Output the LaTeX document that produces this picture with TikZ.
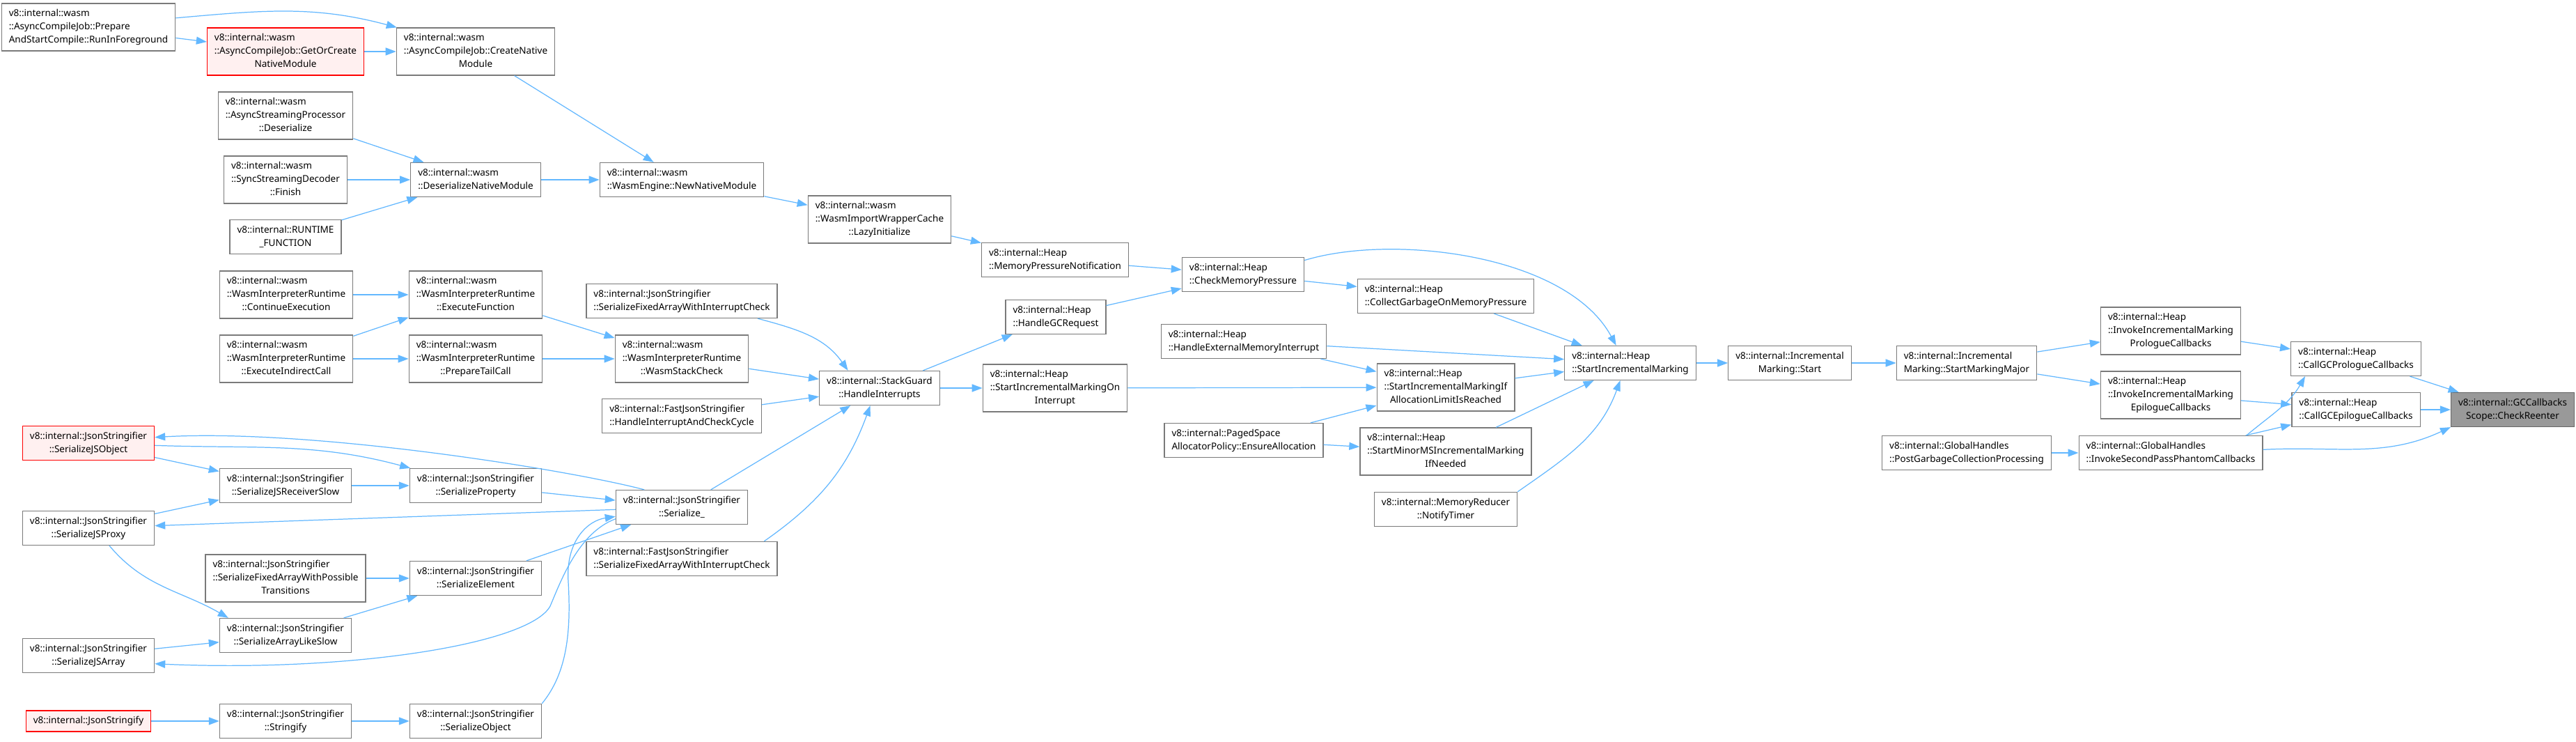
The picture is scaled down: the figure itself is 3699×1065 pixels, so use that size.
\documentclass[tikz,border=0pt]{standalone}
\usepackage{fontspec}
\setmainfont{Noto Sans}
\usetikzlibrary{arrows.meta}
\definecolor{callblue}{HTML}{63B8FF}
\definecolor{framegray}{HTML}{7A7A7A}
\definecolor{hitred}{HTML}{FF0000}
\definecolor{hitfill}{HTML}{FFF0F0}
\definecolor{curfill}{HTML}{999999}
\definecolor{curframe}{HTML}{666666}
% all lines left, the last one centred
\newcommand{\dlab}[2]{\begin{tabular}{@{}l@{}}#1\multicolumn{1}{@{}c@{}}{#2}\end{tabular}}
\tikzset{fn/.style={draw=framegray,line width=0.75pt,fill=white,inner xsep=0.21cm,inner ysep=0.11cm},
  fnred/.style={fn,draw=hitred,fill=hitfill},
  fncur/.style={fn,draw=curframe,fill=curfill},
  call/.style={draw=callblue,line width=0.7pt,-{Triangle[length=0.3cm,width=0.22cm]}}}

\begin{document}
\begin{tikzpicture}[x=0.02cm,y=0.02cm,font={\fontsize{7.7}{10.8}\selectfont}]
\fill[white] (0,0) rectangle (3699,1065);
\useasboundingbox (0,0) rectangle (3699,1065);
% wasm
\node[fn] (runfg) at (127,1026) {\dlab{v8::internal::wasm\\::AsyncCompileJob::Prepare\\}{AndStartCompile::RunInForeground}};
\node[fnred] (getnm) at (410,991) {\dlab{v8::internal::wasm\\::AsyncCompileJob::GetOrCreate\\}{NativeModule}};
\node[fn] (createnm) at (683,991) {\dlab{v8::internal::wasm\\::AsyncCompileJob::CreateNative\\}{Module}};
\node[fn] (streamdes) at (410,899) {\dlab{v8::internal::wasm\\::AsyncStreamingProcessor\\}{::Deserialize}};
\node[fn] (syncfinish) at (410,807) {\dlab{v8::internal::wasm\\::SyncStreamingDecoder\\}{::Finish}};
\node[fn] (runtimefn) at (410,725) {\dlab{v8::internal::RUNTIME\\}{\_FUNCTION}};
\node[fn] (deserialnm) at (683,807) {\dlab{v8::internal::wasm\\}{::DeserializeNativeModule}};
\node[fn] (newnm) at (979,807) {\dlab{v8::internal::wasm\\}{::WasmEngine::NewNativeModule}};
\node[fn] (contexec) at (411,642) {\dlab{v8::internal::wasm\\::WasmInterpreterRuntime\\}{::ContinueExecution}};
\node[fn] (execfn) at (683,642) {\dlab{v8::internal::wasm\\::WasmInterpreterRuntime\\}{::ExecuteFunction}};
\node[fn] (execind) at (411,550) {\dlab{v8::internal::wasm\\::WasmInterpreterRuntime\\}{::ExecuteIndirectCall}};
\node[fn] (preptail) at (683,550) {\dlab{v8::internal::wasm\\::WasmInterpreterRuntime\\}{::PrepareTailCall}};
\node[fn] (stackchk) at (979,550) {\dlab{v8::internal::wasm\\::WasmInterpreterRuntime\\}{::WasmStackCheck}};
\node[fn] (lazyinit) at (1263,750) {\dlab{v8::internal::wasm\\::WasmImportWrapperCache\\}{::LazyInitialize}};
% json
\node[fn] (fixint) at (979,633) {\dlab{v8::internal::JsonStringifier\\}{::SerializeFixedArrayWithInterruptCheck}};
\node[fn] (checkcycle) at (979,468) {\dlab{v8::internal::FastJsonStringifier\\}{::HandleInterruptAndCheckCycle}};
\node[fnred] (jsobj) at (127,429) {\dlab{v8::internal::JsonStringifier\\}{::SerializeJSObject}};
\node[fn] (recvslow) at (410,368) {\dlab{v8::internal::JsonStringifier\\}{::SerializeJSReceiverSlow}};
\node[fn] (serprop) at (683,368) {\dlab{v8::internal::JsonStringifier\\}{::SerializeProperty}};
\node[fn] (serial) at (979,337) {\dlab{v8::internal::JsonStringifier\\}{::Serialize\_}};
\node[fn] (jsproxy) at (127,307) {\dlab{v8::internal::JsonStringifier\\}{::SerializeJSProxy}};
\node[fn] (fixposs) at (410,235) {\dlab{v8::internal::JsonStringifier\\::SerializeFixedArrayWithPossible\\}{Transitions}};
\node[fn] (serelem) at (683,235) {\dlab{v8::internal::JsonStringifier\\}{::SerializeElement}};
\node[fn] (fastfix) at (979,263) {\dlab{v8::internal::FastJsonStringifier\\}{::SerializeFixedArrayWithInterruptCheck}};
\node[fn] (arrslow) at (410,153) {\dlab{v8::internal::JsonStringifier\\}{::SerializeArrayLikeSlow}};
\node[fn] (jsarray) at (127,124) {\dlab{v8::internal::JsonStringifier\\}{::SerializeJSArray}};
\node[fnred] (jsonify) at (127,30) {\dlab{}{v8::internal::JsonStringify}};
\node[fn] (stringify) at (410,30) {\dlab{v8::internal::JsonStringifier\\}{::Stringify}};
\node[fn] (serobj) at (683,30) {\dlab{v8::internal::JsonStringifier\\}{::SerializeObject}};
% heap
\node[fn] (interrupts) at (1263,508) {\dlab{v8::internal::StackGuard\\}{::HandleInterrupts}};
\node[fn] (mempress) at (1515,692) {\dlab{v8::internal::Heap\\}{::MemoryPressureNotification}};
\node[fn] (gcreq) at (1516,610) {\dlab{v8::internal::Heap\\}{::HandleGCRequest}};
\node[fn] (oninterrupt) at (1515,508) {\dlab{v8::internal::Heap\\::StartIncrementalMarkingOn\\}{Interrupt}};
\node[fn] (checkmem) at (1785,671) {\dlab{v8::internal::Heap\\}{::CheckMemoryPressure}};
\node[fn] (extmem) at (1786,575) {\dlab{v8::internal::Heap\\}{::HandleExternalMemoryInterrupt}};
\node[fn] (ensurealloc) at (1786,433) {\dlab{v8::internal::PagedSpace\\}{AllocatorPolicy::EnsureAllocation}};
\node[fn] (collectgc) at (2076,640) {\dlab{v8::internal::Heap\\}{::CollectGarbageOnMemoryPressure}};
\node[fn] (imlimit) at (2076,509) {\dlab{v8::internal::Heap\\::StartIncrementalMarkingIf\\}{AllocationLimitIsReached}};
\node[fn] (minorms) at (2076,417) {\dlab{v8::internal::Heap\\::StartMinorMSIncrementalMarking\\}{IfNeeded}};
\node[fn] (notify) at (2076,334) {\dlab{v8::internal::MemoryReducer\\}{::NotifyTimer}};
\node[fn] (startim) at (2341,544) {\dlab{v8::internal::Heap\\}{::StartIncrementalMarking}};
\node[fn] (imstart) at (2570,544) {\dlab{v8::internal::Incremental\\}{Marking::Start}};
\node[fn] (markmajor) at (2824,544) {\dlab{v8::internal::Incremental\\}{Marking::StartMarkingMajor}};
\node[fn] (postgc) at (2824,415) {\dlab{v8::internal::GlobalHandles\\}{::PostGarbageCollectionProcessing}};
\node[fn] (prologue) at (3117,590) {\dlab{v8::internal::Heap\\::InvokeIncrementalMarking\\}{PrologueCallbacks}};
\node[fn] (epilogue) at (3117,498) {\dlab{v8::internal::Heap\\::InvokeIncrementalMarking\\}{EpilogueCallbacks}};
\node[fn] (phantom) at (3117,415) {\dlab{v8::internal::GlobalHandles\\}{::InvokeSecondPassPhantomCallbacks}};
\node[fn] (gcpro) at (3383,550) {\dlab{v8::internal::Heap\\}{::CallGCPrologueCallbacks}};
\node[fn] (gcepi) at (3383,477) {\dlab{v8::internal::Heap\\}{::CallGCEpilogueCallbacks}};
\node[fncur] (reenter) at (3608,477) {\dlab{v8::internal::GCCallbacks\\}{Scope::CheckReenter}};
% straight calls
\foreach \a/\b in {runfg/getnm,getnm/createnm,createnm/newnm,streamdes/deserialnm,syncfinish/deserialnm,
  runtimefn/deserialnm,deserialnm/newnm,contexec/execfn,execind/execfn,execind/preptail,execfn/stackchk,
  preptail/stackchk,jsobj/recvslow,jsproxy/recvslow,recvslow/serprop,serprop/serial,serial/jsproxy,
  fixposs/serelem,arrslow/serelem,serelem/serial,jsarray/arrslow,jsonify/stringify,stringify/serobj,
  newnm/lazyinit,lazyinit/mempress,mempress/checkmem,gcreq/checkmem,stackchk/interrupts,checkcycle/interrupts,
  serial/interrupts,interrupts/gcreq,interrupts/oninterrupt,checkmem/collectgc,collectgc/startim,extmem/startim,
  extmem/imlimit,oninterrupt/imlimit,ensurealloc/imlimit,ensurealloc/minorms,imlimit/startim,minorms/startim,
  startim/imstart,imstart/markmajor,markmajor/prologue,markmajor/epilogue,postgc/phantom,prologue/gcpro,
  epilogue/gcepi,phantom/gcepi,gcpro/reenter,gcepi/reenter}
  \draw[call] (\a) -- (\b);
% bent calls
\draw[call] (runfg.6) to[out=5,in=165] (createnm.163);
\draw[call] (serial.155) .. controls (820,390) and (450,450) .. (jsobj.5);
\draw[call] (jsobj.-2) to[out=-2,in=165] (serprop.165);
\draw[call] (jsproxy.-40) to[out=-50,in=150] (arrslow.163);
\draw[call] (serial.190) .. controls (830,300) and (805,230) .. (790,195) .. controls (760,140) and (500,100) .. (jsarray.-7);
\draw[call] (serobj.north east) .. controls (815,100) and (820,160) .. (816,230) .. controls (812,290) and (845,318) .. (serial.188);
\draw[call] (fixint.-13) to[out=-15,in=125] (interrupts.151);
\draw[call] (fastfix.12) to[out=35,in=-110] (interrupts.242);
\draw[call] (checkmem.13) .. controls (2000,730) and (2250,700) .. (startim.129);
\draw[call] (notify.north east) to[out=35,in=-110] (startim.240);
\draw[call] (phantom.13) to[out=40,in=-120] (gcpro.199);
\draw[call] (phantom.2) to[out=3,in=-155] (reenter.south west);
\end{tikzpicture}
\end{document}
